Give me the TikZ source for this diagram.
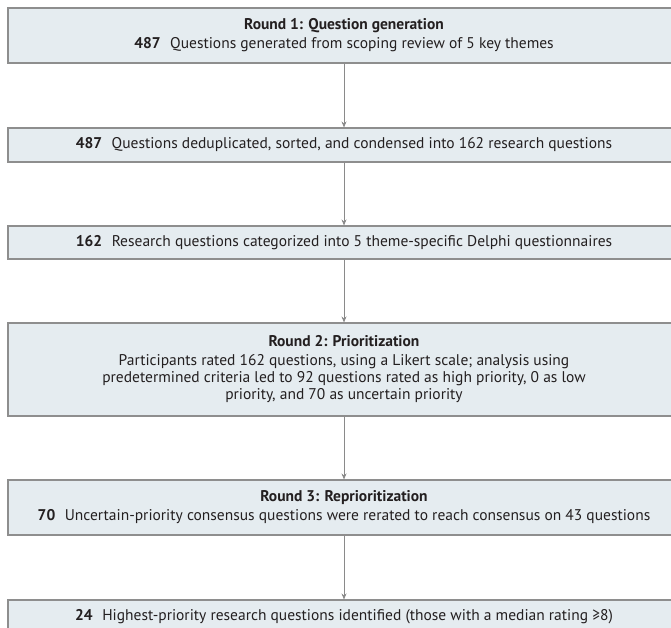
\documentclass[tikz,border=0pt]{standalone}
\usepackage{fontspec}
\setmainfont{PT Sans}
\usepackage{tikz}
\usetikzlibrary{arrows.meta}

\definecolor{boxfill}{HTML}{E5ECF0}
\definecolor{boxline}{HTML}{8E8E8E}
\definecolor{inktext}{HTML}{231F20}
\definecolor{flowgray}{HTML}{8A8A8A}

\begin{document}
\begin{tikzpicture}[x=1pt,y=-1pt,
  stage/.style={draw=boxline,fill=boxfill,line width=1.1pt,minimum width=672pt,
    inner sep=0pt,align=center,text=inktext,font=\fontsize{15.5}{17}\selectfont},
  flow/.style={draw=flowgray,line width=0.7pt,-{Stealth[length=6pt,width=5pt]}}]
\useasboundingbox (0,0) rectangle (671,627);
\node[stage,minimum height=55pt] (round1) at (344,35.5)
  {\textbf{Round 1: Question generation}\\[2pt]
   \textbf{487}\hspace{0.35em} Questions generated from scoping review of 5 key themes};
\node[stage,minimum height=34pt] (dedup) at (344,145)
  {\textbf{487}\hspace{0.35em} Questions deduplicated, sorted, and condensed into 162 research questions};
\node[stage,minimum height=33pt] (sorted) at (344,242.5)
  {\textbf{162}\hspace{0.35em} Research questions categorized into 5 theme-specific Delphi questionnaires};
\node[stage,minimum height=93pt] (round2) at (344,369.5)
  {\textbf{Round 2: Prioritization}\\[2pt]
   Participants rated 162 questions, using a Likert scale; analysis using\\
   predetermined criteria led to 92 questions rated as high priority, 0 as low\\
   priority, and 70 as uncertain priority};
\node[stage,minimum height=55pt] (round3) at (344,507.5)
  {\textbf{Round 3: Reprioritization}\\[2pt]
   \textbf{70}\hspace{0.35em} Uncertain-priority consensus questions were rerated to reach consensus on 43 questions};
\node[stage,minimum height=34pt] (final) at (344,617)
  {\textbf{24}\hspace{0.35em} Highest-priority research questions identified (those with a median rating ≥8)};

\draw[flow] (round1) -- (dedup);
\draw[flow] (dedup) -- (sorted);
\draw[flow] (sorted) -- (round2);
\draw[flow] (round2) -- (round3);
\draw[flow] (round3) -- (final);
\end{tikzpicture}
\end{document}
